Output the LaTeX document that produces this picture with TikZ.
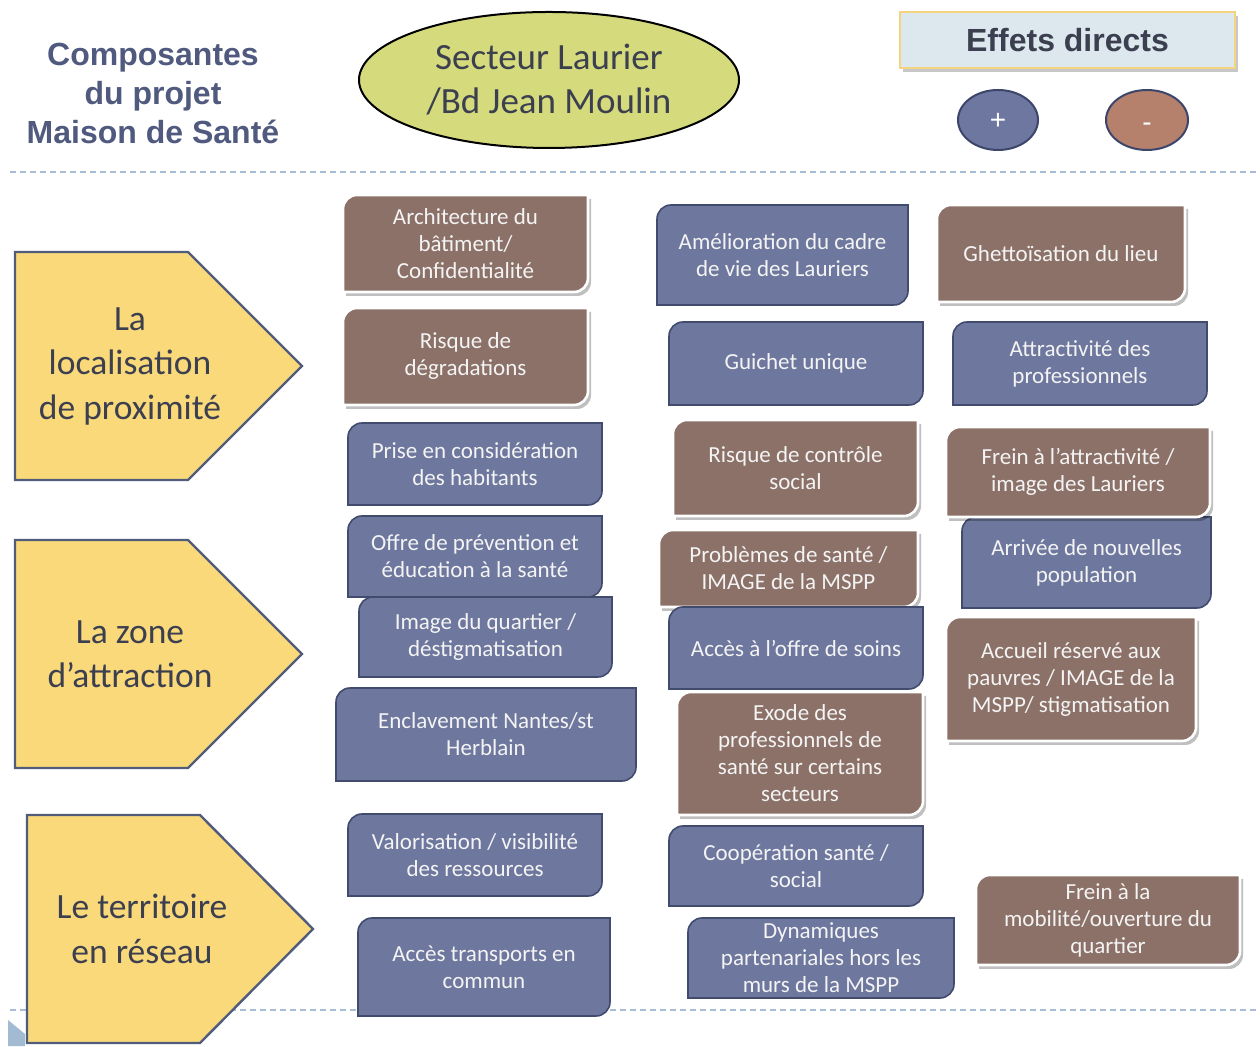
\documentclass[tikz,border=0pt]{standalone}
\usepackage{fontspec}
\setmainfont{Carlito}
\newfontfamily\headfont{Liberation Sans}
\usetikzlibrary{shapes.geometric}

\definecolor{boxblue}{HTML}{6E779E}
\definecolor{blueedge}{HTML}{414B6E}
\definecolor{boxbrown}{HTML}{8C7168}
\definecolor{pentfill}{HTML}{F9D97A}
\definecolor{pentedge}{HTML}{515B7A}
\definecolor{dashcol}{HTML}{A8BED6}
\definecolor{titlecol}{HTML}{505A7E}
\definecolor{darktext}{HTML}{3B3F4F}
\definecolor{ellfill}{HTML}{D5DB7C}
\definecolor{plusfill}{HTML}{6D779F}
\definecolor{minusfill}{HTML}{B5806C}
\definecolor{circedge}{HTML}{3C466A}
\definecolor{headfill}{HTML}{DCE7EE}
\definecolor{headedge}{HTML}{F3D57E}
\definecolor{boxtext}{HTML}{F4F4F4}
\definecolor{marker}{HTML}{A3BBD2}

\tikzset{
  efftext/.style={text=boxtext, align=center, inner sep=0pt,
    font=\fontsize{23}{27}\selectfont},
  positive/.style={fill=boxblue, draw=blueedge, line width=1.6pt},
  negative/.style={fill=boxbrown, draw=white, line width=2.6pt,
    preaction={fill=black, opacity=0.25, draw=none,
      transform canvas={xshift=3pt, yshift=-4pt}}},
  pentstyle/.style={fill=pentfill, draw=pentedge, line width=2.4pt, line join=miter},
  penttext/.style={text=darktext, align=center, inner sep=0pt,
    font=\fontsize{35.5}{44.5}\selectfont},
  sepline/.style={draw=dashcol, line width=1.2pt, dash pattern=on 6pt off 4pt},
  signcirc/.style={ellipse, draw=circedge, line width=2pt, text=white,
    minimum width=80pt, minimum height=60pt, inner sep=0pt,
    text height=0pt, text depth=0pt,
    font=\headfont\fontsize{28}{28}\selectfont},
}

% Effect box: name, kind, left, top, right, bottom (y measured downward), text
\newcommand\effet[7]{%
  \pgfmathsetmacro\bxl{#3}\pgfmathsetmacro\bxt{1046-#4}%
  \pgfmathsetmacro\bxr{#5}\pgfmathsetmacro\bxb{1046-#6}%
  \path[#2] (\bxl,\bxb) -- (\bxl,{\bxt-14})
    arc[start angle=180, end angle=90, radius=14pt] -- (\bxr,\bxt)
    -- (\bxr,{\bxb+14}) arc[start angle=0, end angle=-90, radius=14pt] -- cycle;
  \node[efftext] (#1) at ({(\bxl+\bxr)/2},{(\bxt+\bxb)/2}) {#7};%
}

% Pentagon arrow: name, left, top, bottom, start of slant, tip x, text x (text in \composantetext)
\newcommand\composante[7]{%
  \pgfmathsetmacro\pl{#2}\pgfmathsetmacro\pt{1046-#3}%
  \pgfmathsetmacro\pb{1046-#4}\pgfmathsetmacro\ps{#5}\pgfmathsetmacro\px{#6}%
  \path[pentstyle] (\pl,\pt) -- (\ps,\pt) -- (\px,{(\pt+\pb)/2}) -- (\ps,\pb)
    -- (\pl,\pb) -- cycle;
  \node[penttext] (#1) at (#7,{(\pt+\pb)/2}) {\composantetext};%
}

\begin{document}
\begin{tikzpicture}[x=1pt, y=1pt]
\useasboundingbox (0,0) rectangle (1260,1046);
\fill[white] (0,0) rectangle (1260,1046);

% separators
\draw[sepline] (10,{1046-172}) -- (1260,{1046-172});
\draw[sepline] (10,{1046-1010}) -- (1260,{1046-1010});
\fill[marker] (8,{1046-1020}) -- (25,{1046-1034}) -- (25,0) -- (8,0) -- cycle;

% header
\node[text=titlecol, align=center, inner sep=0pt,
  font=\headfont\bfseries\fontsize{32}{39}\selectfont]
  (title) at (153,{1046-93}) {Composantes\\du projet\\Maison de Santé};

\node[ellipse, fill=ellfill, draw=black, line width=2pt,
  minimum width=380pt, minimum height=136pt, inner sep=0pt,
  text=darktext, align=center, font=\fontsize{37}{44}\selectfont]
  (secteur) at (549,{1046-80}) {Secteur Laurier\\/Bd Jean Moulin};

\node[rectangle, fill=headfill, draw=headedge, line width=2pt,
  minimum width=335pt, minimum height=56pt, inner sep=0pt,
  text=darktext, font=\headfont\bfseries\fontsize{32}{32}\selectfont,
  preaction={fill=black, opacity=0.22, draw=none,
    transform canvas={xshift=3pt, yshift=-4pt}}]
  (effets) at (1067.5,{1046-40}) {Effets directs};

\node[signcirc, fill=plusfill] (plus) at (998,{1046-120}) {\raisebox{-10pt}{+}};
\node[signcirc, fill=minusfill, minimum width=82pt] (minus) at (1147,{1046-120})
  {\raisebox{-12pt}{-}};

% project components
\def\composantetext{La\\localisation\\de proximité}
\composante{loc}{15}{252}{480}{188}{302}{130}
\def\composantetext{La zone\\d’attraction}
\composante{zone}{15}{540}{768}{188}{302}{130}
\def\composantetext{Le territoire\\en réseau}
\composante{terr}{27}{815}{1043}{200}{313}{142}

% first column of effects
\effet{archi}{negative}{343}{195}{588}{292}{Architecture du\\bâtiment/\\Confidentialité}
\effet{degr}{negative}{343}{308}{588}{405}{Risque de\\dégradations}
\effet{prise}{positive}{348}{423}{602}{505}{Prise en considération\\des habitants}
\effet{offre}{positive}{348}{516}{602}{597}{Offre de prévention et\\éducation à la santé}
\effet{image}{positive}{359}{597}{612}{677}{Image du quartier /\\déstigmatisation}
\effet{encl}{positive}{336}{688}{636}{781}{Enclavement Nantes/st\\Herblain}
\effet{valo}{positive}{348}{814}{602}{896}{Valorisation / visibilité\\des ressources}
\effet{transp}{positive}{358}{918}{610}{1016}{Accès transports en\\commun}

% second column of effects
\effet{amel}{positive}{657}{205}{908}{305}{Amélioration du cadre\\de vie des Lauriers}
\effet{guichet}{positive}{669}{322}{923}{405}{Guichet unique}
\effet{controle}{negative}{673}{420}{918}{516}{Risque de contrôle\\social}
\effet{probl}{negative}{659}{530}{918}{607}{Problèmes de santé /\\IMAGE de la MSPP}
\effet{soins}{positive}{669}{607}{923}{689}{Accès à l’offre de soins}
\effet{exode}{negative}{677}{692}{923}{815}{Exode des\\professionnels de\\santé sur certains\\secteurs}
\effet{coop}{positive}{669}{826}{923}{906}{Coopération santé /\\social}
\effet{dyn}{positive}{688}{918}{954}{998}{Dynamiques\\partenariales hors les\\murs de la MSPP}

% third column of effects
\effet{ghetto}{negative}{937}{205}{1185}{302}{Ghettoïsation du lieu}
\effet{attr}{positive}{953}{322}{1207}{405}{Attractivité des\\professionnels}
\effet{arriv}{positive}{962}{517}{1211}{608}{Arrivée de nouvelles\\population}
\effet{frein}{negative}{946}{427}{1210}{517}{Frein à l’attractivité /\\image des Lauriers}
\effet{accueil}{negative}{946}{617}{1196}{741}{Accueil réservé aux\\pauvres / IMAGE de la\\MSPP/ stigmatisation}
\effet{mobil}{negative}{976}{875}{1240}{965}{Frein à la\\mobilité/ouverture du\\quartier}
\end{tikzpicture}
\end{document}
